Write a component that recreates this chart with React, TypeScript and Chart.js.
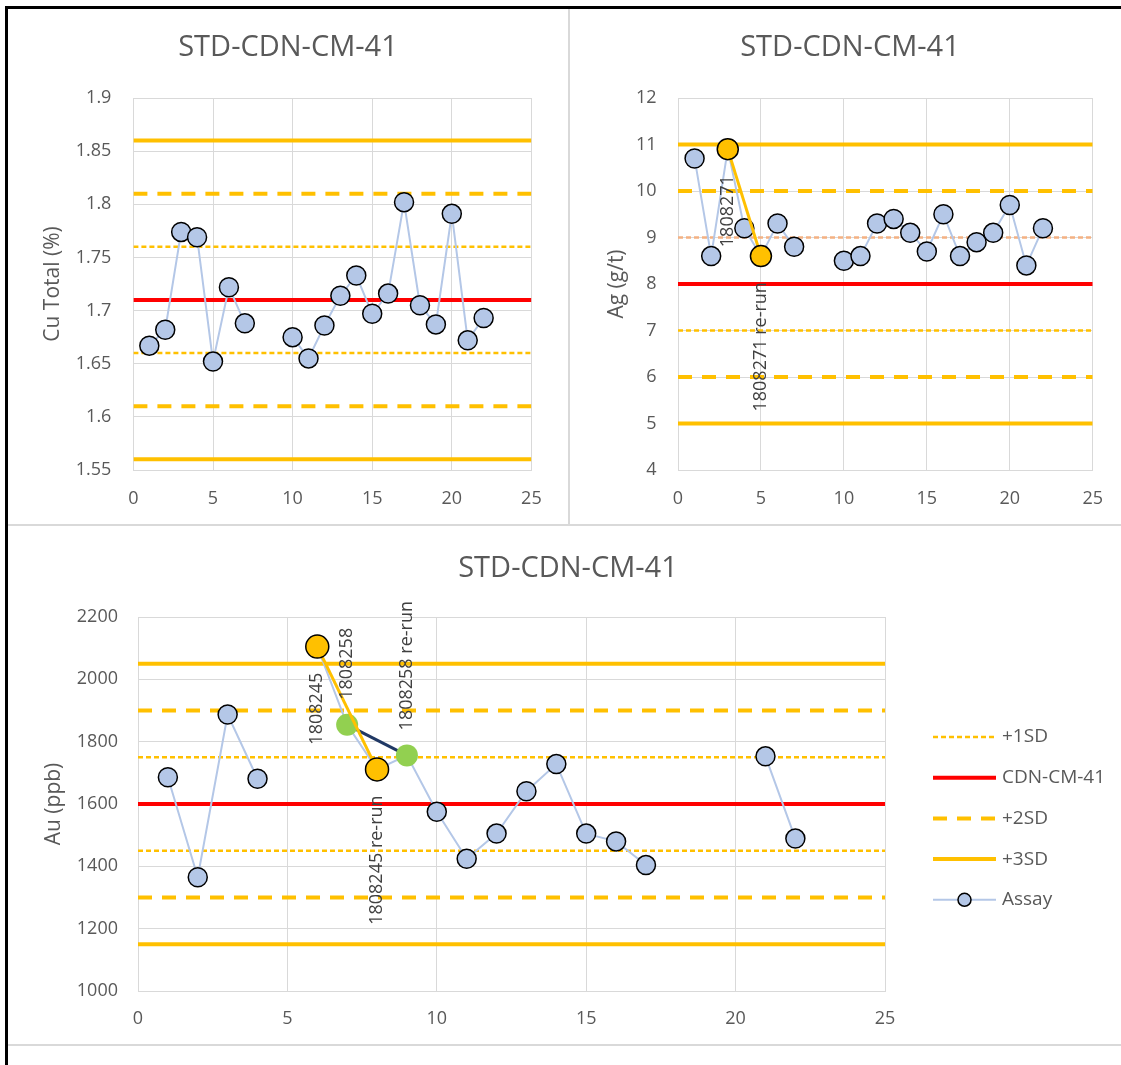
import React, { useEffect, useRef } from "react";
import { Chart, registerables } from "chart.js";

Chart.register(...registerables);

// ---------- data ----------
const chartTitle = "STD-CDN-CM-41";
const sampleNo = [1, 2, 3, 4, 5, 6, 7, 8, 9, 10, 11, 12, 13, 14, 15, 16, 17, 18, 19, 20, 21, 22];
const xTicks = [0, 5, 10, 15, 20, 25];

// Cu Total (%)
const cuAssay = [1.667, 1.682, 1.774, 1.769, 1.652, 1.722, 1.688, null, null, 1.675, 1.655, 1.686, 1.714, 1.733, 1.697, 1.716, 1.802, 1.705, 1.687, 1.791, 1.672, 1.693];
const cuMean = [1.71];
const cuSd1 = [1.66, 1.76];
const cuSd2 = [1.61, 1.81];
const cuSd3 = [1.56, 1.86];
const cuYTicks = [1.55, 1.6, 1.65, 1.7, 1.75, 1.8, 1.85, 1.9];

// Ag (g/t)
const agAssay = [10.7, 8.6, 10.9, 9.2, 8.6, 9.3, 8.8, null, null, 8.5, 8.6, 9.3, 9.4, 9.1, 8.7, 9.5, 8.6, 8.9, 9.1, 9.7, 8.4, 9.2];
const agMean = [8];
const agSd1Low = [7];
const agSd1High = [9];
const agSd2 = [6, 10];
const agSd3 = [5, 11];
const agYTicks = [4, 5, 6, 7, 8, 9, 10, 11, 12];
const agRerunX = [3, 5];
const agRerunY = [10.9, 8.6];
const agRerunLabels = ["1808271", "1808271 re-run"];

// Au (ppb)
const auAssay = [1686, 1365, 1887, 1681, null, 2105, 1854, 1711, 1756, 1575, 1424, 1505, 1641, 1728, 1505, 1480, 1404, null, null, null, 1753, 1489];
const auMean = [1600];
const auSd1 = [1450, 1750];
const auSd2 = [1300, 1900];
const auSd3 = [1150, 2050];
const auYTicks = [1000, 1200, 1400, 1600, 1800, 2000, 2200];
const auRerunAX = [6, 8];
const auRerunAY = [2105, 1711];
const auRerunALabels = ["1808245", "1808245 re-run"];
const auRerunBX = [7, 9];
const auRerunBY = [1854, 1756];
const auRerunBLabels = ["1808258", "1808258 re-run"];

const legendLabels = ["+1SD", "CDN-CM-41", "+2SD", "+3SD", "Assay"];

// ---------- styles ----------
const FONT = "'Open Sans', 'Noto Sans', sans-serif";
const TEXT = "#595959";
const GRID = "#D9D9D9";
const GOLD = "#FFC000";
const RED = "#FF0000";
const SALMON = "#F4B183";
const ASSAY = "#B4C7E7";
const GREEN = "#92D050";
const NAVY = "#203864";

const STYLE_SD1 = { color: GOLD, width: 2.5, dash: [5, 3] };
const STYLE_MEAN = { color: RED, width: 4, dash: [] as number[] };
const STYLE_SD2 = { color: GOLD, width: 4, dash: [14, 10] };
const STYLE_SD3 = { color: GOLD, width: 4, dash: [] as number[] };

function refLines(values: number[], st: { color: string; width: number; dash: number[] }) {
  return values.map((v) => ({
    type: "line",
    data: [
      { x: xTicks[0], y: v },
      { x: xTicks[xTicks.length - 1], y: v },
    ],
    borderColor: st.color,
    borderWidth: st.width,
    borderDash: st.dash,
    pointRadius: 0,
    pointHoverRadius: 0,
    fill: false,
    order: 10,
  }));
}

function assaySet(values: (number | null)[]) {
  return {
    type: "line",
    data: sampleNo.map((x, i) => ({ x, y: values[i] })),
    borderColor: ASSAY,
    borderWidth: 2,
    pointRadius: 9.5,
    pointHoverRadius: 9.5,
    pointBackgroundColor: ASSAY,
    pointBorderColor: "#000",
    pointBorderWidth: 1.5,
    spanGaps: false,
    fill: false,
    order: 3,
  };
}

function rerunSet(xs: number[], ys: number[], lineColor: string, fillColor: string, radius: number, border: boolean, order: number) {
  return {
    type: "line",
    data: xs.map((x, i) => ({ x, y: ys[i] })),
    borderColor: lineColor,
    borderWidth: 3,
    pointRadius: radius,
    pointHoverRadius: radius,
    pointBackgroundColor: fillColor,
    pointBorderColor: border ? "#000" : fillColor,
    pointBorderWidth: border ? 1.5 : 0,
    fill: false,
    order,
  };
}

const rerunLabelPlugin = {
  id: "rerunLabels",
  afterDatasetsDraw(chart: any, _args: any, opts: any) {
    const items = (opts && opts.items) || [];
    const ctx = chart.ctx;
    ctx.save();
    ctx.font = `18px ${FONT}`;
    ctx.fillStyle = "#404040";
    ctx.textBaseline = "middle";
    items.forEach((item: any) => {
      const meta = chart.getDatasetMeta(item.dataset);
      item.texts.forEach((t: string, i: number) => {
        const el = meta.data[i];
        if (!el) return;
        const side = item.sides[i];
        ctx.save();
        ctx.translate(el.x, el.y);
        ctx.rotate(-Math.PI / 2);
        if (side === "below") {
          ctx.textAlign = "right";
          ctx.fillText(t, -26, 0);
        } else {
          ctx.textAlign = "left";
          ctx.fillText(t, 25, 0);
        }
        ctx.restore();
      });
    });
    ctx.restore();
  },
};

const customLegendPlugin = {
  id: "customLegend",
  afterDraw(chart: any, _args: any, opts: any) {
    if (!opts || !opts.show) return;
    const ctx = chart.ctx;
    const styles = [STYLE_SD1, STYLE_MEAN, STYLE_SD2, STYLE_SD3, null];
    const x1 = opts.x1, x2 = opts.x2, tx = opts.tx;
    ctx.save();
    legendLabels.forEach((label, i) => {
      const y = opts.y0 + i * opts.step;
      const st = styles[i];
      ctx.save();
      ctx.beginPath();
      if (st) {
        ctx.strokeStyle = st.color;
        ctx.lineWidth = st.width;
        ctx.setLineDash(st.dash);
      } else {
        ctx.strokeStyle = ASSAY;
        ctx.lineWidth = 2;
        ctx.setLineDash([]);
      }
      ctx.moveTo(x1, y);
      ctx.lineTo(x2, y);
      ctx.stroke();
      if (!st) {
        ctx.beginPath();
        ctx.arc((x1 + x2) / 2, y, 6.5, 0, Math.PI * 2);
        ctx.fillStyle = ASSAY;
        ctx.fill();
        ctx.lineWidth = 1.5;
        ctx.strokeStyle = "#000";
        ctx.stroke();
      }
      ctx.restore();
      ctx.font = `19px ${FONT}`;
      ctx.fillStyle = TEXT;
      ctx.textAlign = "left";
      ctx.textBaseline = "middle";
      ctx.fillText(label, tx, y);
    });
    ctx.restore();
  },
};

type PanelOpts = {
  datasets: any[];
  yTicks: number[];
  yLabel: string;
  padLeft: number;
  yWidth: number;
  yTitlePad: number;
  yTickPad: number;
  rightWidth: number;
  titlePadTop: number;
  titlePadBottom: number;
  xHeight: number;
  xTickPad: number;
  labelItems: any[];
  legend: any;
};

function buildConfig(p: PanelOpts): any {
  return {
    type: "line",
    data: { datasets: p.datasets },
    plugins: [rerunLabelPlugin, customLegendPlugin],
    options: {
      responsive: false,
      animation: false,
      devicePixelRatio: 1,
      events: [],
      layout: { padding: { left: p.padLeft, right: 0, top: 0, bottom: 0 } },
      plugins: {
        legend: { display: false },
        tooltip: { enabled: false },
        title: {
          display: true,
          text: chartTitle,
          color: TEXT,
          font: { family: FONT, size: 29, weight: "normal" },
          padding: { top: p.titlePadTop, bottom: p.titlePadBottom },
        },
        rerunLabels: { items: p.labelItems },
        customLegend: p.legend,
      },
      scales: {
        x: {
          type: "linear",
          min: xTicks[0],
          max: xTicks[xTicks.length - 1],
          afterBuildTicks: (s: any) => {
            s.ticks = xTicks.map((v) => ({ value: v }));
          },
          afterFit: (s: any) => {
            s.height = p.xHeight;
          },
          grid: { color: GRID, lineWidth: 1, drawTicks: false },
          border: { color: GRID, width: 1 },
          ticks: {
            color: TEXT,
            font: { family: FONT, size: 18 },
            padding: p.xTickPad,
            maxRotation: 0,
            callback: (v: any) => String(v),
          },
        },
        y: {
          type: "linear",
          position: "left",
          min: p.yTicks[0],
          max: p.yTicks[p.yTicks.length - 1],
          afterBuildTicks: (s: any) => {
            s.ticks = p.yTicks.map((v) => ({ value: v }));
          },
          afterFit: (s: any) => {
            s.width = p.yWidth;
          },
          grid: { color: GRID, lineWidth: 1, drawTicks: false },
          border: { color: GRID, width: 1 },
          ticks: {
            color: TEXT,
            font: { family: FONT, size: 18 },
            padding: p.yTickPad,
            callback: (v: any) => String(Number(Number(v).toFixed(2))),
          },
          title: {
            display: true,
            text: p.yLabel,
            color: TEXT,
            font: { family: FONT, size: 21, weight: "normal" },
            padding: { top: p.yTitlePad, bottom: 0 },
          },
        },
        yRight: {
          type: "linear",
          position: "right",
          display: true,
          grid: { display: false, drawTicks: false },
          border: { display: false },
          ticks: { display: false },
          afterFit: (s: any) => {
            s.width = p.rightWidth;
          },
        },
      },
    },
  };
}

const cuConfig = () =>
  buildConfig({
    datasets: [
      assaySet(cuAssay),
      ...refLines(cuSd1, STYLE_SD1),
      ...refLines(cuMean, STYLE_MEAN),
      ...refLines(cuSd2, STYLE_SD2),
      ...refLines(cuSd3, STYLE_SD3),
    ],
    yTicks: cuYTicks,
    yLabel: "Cu Total (%)",
    padLeft: 0,
    yWidth: 125.4,
    yTitlePad: 32,
    yTickPad: 22,
    rightWidth: 36.6,
    titlePadTop: 20,
    titlePadBottom: 33.2,
    xHeight: 53,
    xTickPad: 18,
    labelItems: [],
    legend: { show: false },
  });

const agConfig = () =>
  buildConfig({
    datasets: [
      rerunSet(agRerunX, agRerunY, GOLD, GOLD, 10.5, true, 1),
      assaySet(agAssay),
      ...refLines(agSd1Low, STYLE_SD1),
      ...refLines(agSd1High, { ...STYLE_SD1, color: SALMON }),
      ...refLines(agMean, STYLE_MEAN),
      ...refLines(agSd2, STYLE_SD2),
      ...refLines(agSd3, STYLE_SD3),
    ],
    yTicks: agYTicks,
    yLabel: "Ag (g/t)",
    padLeft: 8,
    yWidth: 99,
    yTitlePad: 25.4,
    yTickPad: 21.4,
    rightWidth: 27.2,
    titlePadTop: 20,
    titlePadBottom: 33.2,
    xHeight: 53,
    xTickPad: 18,
    labelItems: [{ dataset: 0, texts: agRerunLabels, sides: ["below", "below"] }],
    legend: { show: false },
  });

const auConfig = () =>
  buildConfig({
    datasets: [
      rerunSet(auRerunAX, auRerunAY, GOLD, GOLD, 11.5, true, 1),
      rerunSet(auRerunBX, auRerunBY, NAVY, GREEN, 11, false, 2),
      assaySet(auAssay),
      ...refLines(auSd1, STYLE_SD1),
      ...refLines(auMean, STYLE_MEAN),
      ...refLines(auSd2, STYLE_SD2),
      ...refLines(auSd3, STYLE_SD3),
    ],
    yTicks: auYTicks,
    yLabel: "Au (ppb)",
    padLeft: 7,
    yWidth: 123,
    yTitlePad: 26.4,
    yTickPad: 20,
    rightWidth: 236,
    titlePadTop: 24.6,
    titlePadBottom: 30.6,
    xHeight: 53,
    xTickPad: 17,
    labelItems: [
      { dataset: 0, texts: auRerunALabels, sides: ["below", "below"] },
      { dataset: 1, texts: auRerunBLabels, sides: ["above", "above"] },
    ],
    legend: { show: true, x1: 925, x2: 988, tx: 994, y0: 210, step: 40.7 },
  });

function ChartCanvas(props: { config: () => any; left: number; top: number; width: number; height: number }) {
  const ref = useRef<HTMLCanvasElement | null>(null);
  useEffect(() => {
    if (!ref.current) return;
    const chart = new Chart(ref.current, props.config());
    return () => chart.destroy();
  }, []);
  return (
    <canvas
      ref={ref}
      width={props.width}
      height={props.height}
      style={{ position: "absolute", left: props.left, top: props.top, width: props.width, height: props.height }}
    />
  );
}

export default function App() {
  const box = (left: number, top: number, width: number, height: number, color: string) => (
    <div style={{ position: "absolute", left, top, width, height, background: color }} />
  );
  return (
    <div style={{ position: "absolute", left: 0, top: 0, width: 1121, height: 1065, background: "#fff", overflow: "hidden" }}>
      <ChartCanvas config={cuConfig} left={8} top={10} width={560} height={513} />
      <ChartCanvas config={agConfig} left={571} top={10} width={550} height={513} />
      <ChartCanvas config={auConfig} left={8} top={527} width={1113} height={517} />
      {box(5, 6, 1116, 3, "#000")}
      {box(5, 6, 3, 1059, "#000")}
      {box(568, 9, 2, 516, GRID)}
      {box(8, 524, 1113, 2, GRID)}
      {box(8, 1044, 1113, 2, GRID)}
    </div>
  );
}
